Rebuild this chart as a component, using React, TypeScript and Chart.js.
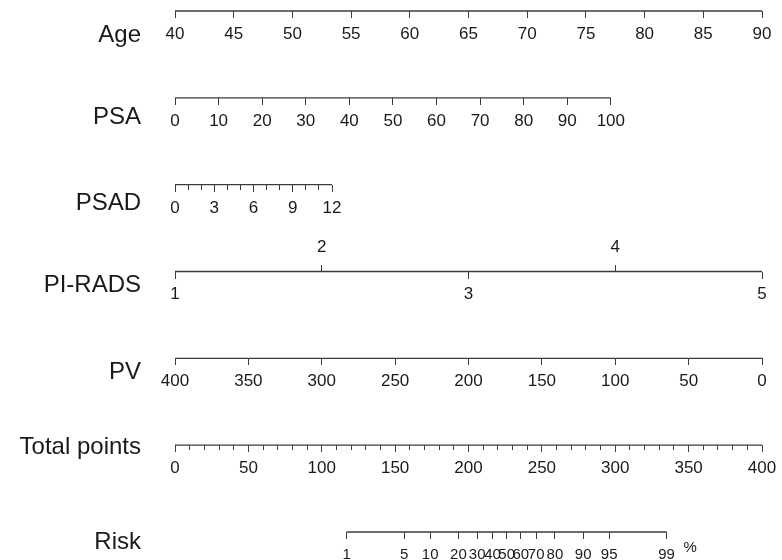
import React, { useEffect, useRef } from 'react';
import { Chart, registerables } from 'chart.js';

Chart.register(...registerables);

// ---------- data ----------
const ROW_TITLES = ['Age', 'PSA', 'PSAD', 'PI-RADS', 'PV', 'Total points', 'Risk'];

const AGE_TICKS = [40, 45, 50, 55, 60, 65, 70, 75, 80, 85, 90];
const PSA_TICKS = [0, 10, 20, 30, 40, 50, 60, 70, 80, 90, 100];
const PSAD_MAJOR = [0, 3, 6, 9, 12];
const PSAD_MINOR = [0, 1, 2, 3, 4, 5, 6, 7, 8, 9, 10, 11, 12];
const PIRADS_LOW = [1, 3, 5];
const PIRADS_HIGH = [2, 4];
const PV_TICKS = [400, 350, 300, 250, 200, 150, 100, 50, 0];
const TOTAL_MAJOR = [0, 50, 100, 150, 200, 250, 300, 350, 400];
const TOTAL_MINOR = [0, 10, 20, 30, 40, 50, 60, 70, 80, 90, 100, 110, 120, 130, 140, 150, 160, 170, 180, 190, 200,
  210, 220, 230, 240, 250, 260, 270, 280, 290, 300, 310, 320, 330, 340, 350, 360, 370, 380, 390, 400];
const RISK_TICKS = [1, 5, 10, 20, 30, 40, 50, 60, 70, 80, 90, 95, 99];

// total-point score at the two ends of each scale
const AGE_POINTS = [0, 400];
const PSA_POINTS = [0, 297];
const PSAD_POINTS = [0, 107];
const PIRADS_POINTS = [0, 400];
const PV_POINTS = [0, 400];
const TOTAL_POINTS = [0, 400];
const RISK_POINTS = [117, 335];

// ---------- layout / style ----------
const MAX_POINTS = 400;
const TITLE_OFFSET = [0.28, 0.23, 0.21, 0.16, 0.16, 0.03, 0.12];
const PCT_OFFSET = 0.68; // logit units right of the 99% tick
const FONT = '"Liberation Sans", Arial, Helvetica, sans-serif';
const LINE = '#3c3c3c';
const TEXT = '#1a1a1a';

const logit = (p: number) => Math.log(p / (1 - p));

function range(v0: number, v1: number, pts: number[]) {
  const slope = (v1 - v0) / (pts[1] - pts[0]);
  const left = v0 - pts[0] * slope;
  const right = v0 + (MAX_POINTS - pts[0]) * slope;
  return left < right
    ? { min: left, max: right, reverse: false }
    : { min: right, max: left, reverse: true };
}

const R_AGE = range(AGE_TICKS[0], AGE_TICKS[AGE_TICKS.length - 1], AGE_POINTS);
const R_PSA = range(PSA_TICKS[0], PSA_TICKS[PSA_TICKS.length - 1], PSA_POINTS);
const R_PSAD = range(PSAD_MINOR[0], PSAD_MINOR[PSAD_MINOR.length - 1], PSAD_POINTS);
const R_PIRADS = range(1, 5, PIRADS_POINTS);
const R_PV = range(PV_TICKS[0], PV_TICKS[PV_TICKS.length - 1], PV_POINTS);
const R_TOTAL = range(TOTAL_MAJOR[0], TOTAL_MAJOR[TOTAL_MAJOR.length - 1], TOTAL_POINTS);
const R_RISK = range(logit(RISK_TICKS[0] / 100), logit(RISK_TICKS[RISK_TICKS.length - 1] / 100), RISK_POINTS);

type AxisSpec = {
  row: number;
  r: { min: number; max: number; reverse: boolean };
  ticks: number[];
  labels?: (string | number)[];
  tickLength?: number;
  padding?: number;
  fontSize?: number;
};

function makeAxis(a: AxisSpec) {
  const tl = a.tickLength ?? 6;
  return {
    type: 'linear',
    axis: 'x',
    position: { y: a.row },
    min: a.r.min,
    max: a.r.max,
    reverse: a.r.reverse,
    bounds: 'data',
    grid: {
      display: true,
      drawOnChartArea: false,
      drawTicks: tl !== 0,
      tickLength: tl,
      tickColor: LINE,
      tickWidth: 1,
    },
    border: { display: false },
    ticks: {
      display: !!a.labels,
      autoSkip: false,
      maxRotation: 0,
      minRotation: 0,
      padding: a.padding ?? 6,
      color: TEXT,
      font: { family: FONT, size: a.fontSize ?? 17 },
      callback: (_v: number, i: number) => (a.labels ? String(a.labels[i]) : ''),
    },
    afterBuildTicks: (s: any) => {
      s.ticks = a.ticks.map((v) => ({ value: v }));
    },
    afterFit: (s: any) => {
      s.paddingLeft = 0;
      s.paddingRight = 0;
    },
  };
}

const riskLogits = RISK_TICKS.map((p) => logit(p / 100));

const scales: any = {
  y: {
    type: 'linear',
    axis: 'y',
    position: 'left',
    min: 0,
    max: ROW_TITLES.length - 1,
    reverse: true,
    bounds: 'data',
    grid: { display: false },
    border: { display: false },
    ticks: {
      autoSkip: false,
      padding: 26,
      color: TEXT,
      font: { family: FONT, size: 24 },
      callback: (_v: number, i: number) => ROW_TITLES[i],
    },
    afterBuildTicks: (s: any) => {
      s.ticks = ROW_TITLES.map((_t, i) => ({ value: i + TITLE_OFFSET[i] }));
    },
    afterFit: (s: any) => {
      s.width = 175;
      s.paddingTop = 0;
      s.paddingBottom = 0;
    },
  },
  xAge: makeAxis({ row: 0, r: R_AGE, ticks: AGE_TICKS, labels: AGE_TICKS, tickLength: 7 }),
  xPsa: makeAxis({ row: 1, r: R_PSA, ticks: PSA_TICKS, labels: PSA_TICKS, tickLength: 7 }),
  xPsad: makeAxis({ row: 2, r: R_PSAD, ticks: PSAD_MAJOR, labels: PSAD_MAJOR, tickLength: 7 }),
  xPsadMinor: makeAxis({ row: 2, r: R_PSAD, ticks: PSAD_MINOR, tickLength: 5 }),
  xPiradsLow: makeAxis({ row: 3, r: R_PIRADS, ticks: PIRADS_LOW, labels: PIRADS_LOW, tickLength: 7 }),
  xPiradsHigh: makeAxis({ row: 3, r: R_PIRADS, ticks: PIRADS_HIGH, labels: PIRADS_HIGH, tickLength: -7, padding: -27 }),
  xPv: makeAxis({ row: 4, r: R_PV, ticks: PV_TICKS, labels: PV_TICKS, tickLength: 7 }),
  xTotal: makeAxis({ row: 5, r: R_TOTAL, ticks: TOTAL_MAJOR, labels: TOTAL_MAJOR, tickLength: 7 }),
  xTotalMinor: makeAxis({ row: 5, r: R_TOTAL, ticks: TOTAL_MINOR, tickLength: 5 }),
  xRisk: makeAxis({ row: 6, r: R_RISK, ticks: riskLogits, labels: RISK_TICKS, tickLength: 7, padding: 7, fontSize: 15 }),
  xPct: makeAxis({
    row: 6,
    r: R_RISK,
    ticks: [riskLogits[riskLogits.length - 1] + PCT_OFFSET],
    labels: ['%'],
    tickLength: 0,
    padding: 7,
    fontSize: 15,
  }),
};

const LINES: { axis: string; row: number; from: number; to: number }[] = [
  { axis: 'xAge', row: 0, from: AGE_TICKS[0], to: AGE_TICKS[AGE_TICKS.length - 1] },
  { axis: 'xPsa', row: 1, from: PSA_TICKS[0], to: PSA_TICKS[PSA_TICKS.length - 1] },
  { axis: 'xPsad', row: 2, from: PSAD_MINOR[0], to: PSAD_MINOR[PSAD_MINOR.length - 1] },
  { axis: 'xPiradsLow', row: 3, from: PIRADS_LOW[0], to: PIRADS_LOW[PIRADS_LOW.length - 1] },
  { axis: 'xPv', row: 4, from: PV_TICKS[0], to: PV_TICKS[PV_TICKS.length - 1] },
  { axis: 'xTotal', row: 5, from: TOTAL_MAJOR[0], to: TOTAL_MAJOR[TOTAL_MAJOR.length - 1] },
  { axis: 'xRisk', row: 6, from: riskLogits[0], to: riskLogits[riskLogits.length - 1] },
];

export default function App() {
  const ref = useRef<HTMLCanvasElement>(null);

  useEffect(() => {
    if (!ref.current) return;
    const chart = new Chart(ref.current, {
      type: 'line',
      data: {
        datasets: LINES.map((l) => ({
          label: l.axis,
          xAxisID: l.axis,
          yAxisID: 'y',
          data: [
            { x: l.from, y: l.row },
            { x: l.to, y: l.row },
          ],
          borderColor: LINE,
          borderWidth: 1.4,
          pointRadius: 0,
          pointHoverRadius: 0,
          fill: false,
          clip: false,
          tension: 0,
        })),
      } as any,
      options: {
        animation: false,
        responsive: false,
        maintainAspectRatio: false,
        events: [],
        layout: { padding: { left: 0, right: 20, top: 11, bottom: 28 } },
        plugins: { legend: { display: false }, tooltip: { enabled: false }, title: { display: false } },
        scales,
      } as any,
    });
    return () => chart.destroy();
  }, []);

  return (
    <div style={{ position: 'absolute', left: 0, top: 0, width: 782, height: 560, background: '#ffffff' }}>
      <canvas ref={ref} width={782} height={560} style={{ display: 'block', width: 782, height: 560 }} />
    </div>
  );
}
